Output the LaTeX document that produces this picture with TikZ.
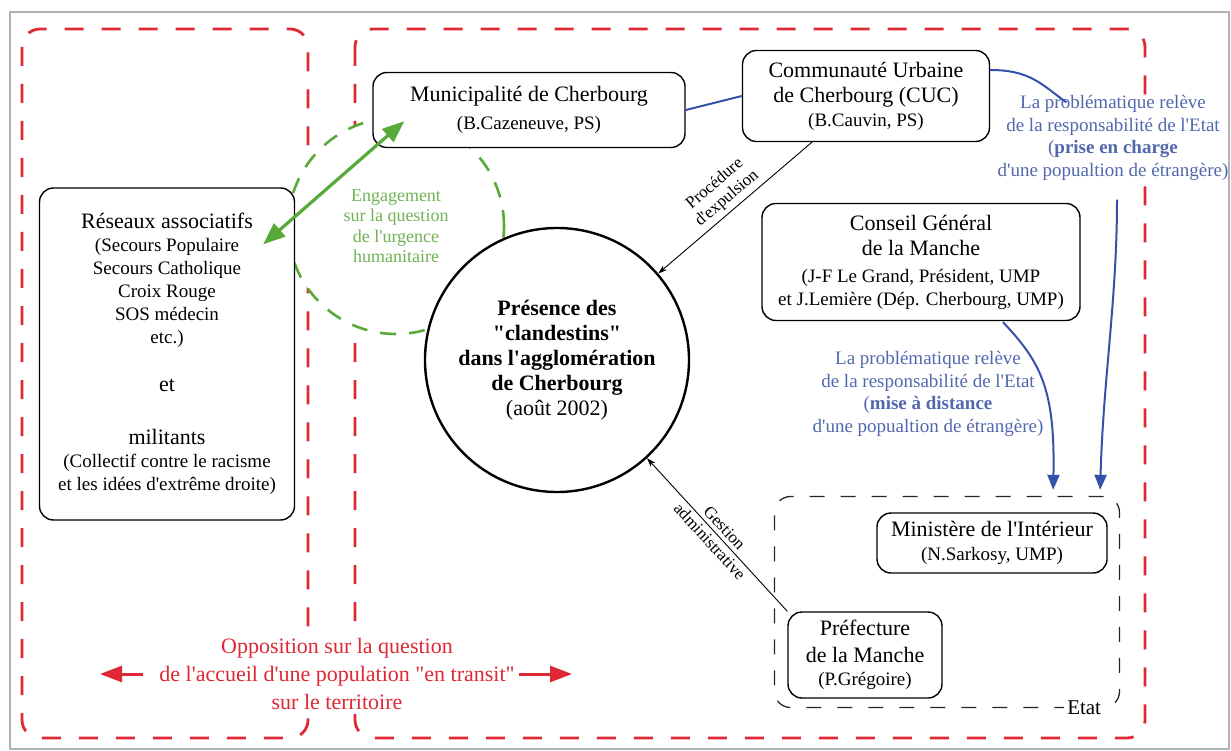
\documentclass[tikz,border=0pt]{standalone}
\usepackage{fontspec}
\setmainfont{Liberation Serif}[Ligatures=TeXOff]
\usetikzlibrary{arrows.meta,calc}

\definecolor{zonered}{RGB}{222,40,52}
\definecolor{engreen}{RGB}{88,170,56}
\definecolor{engtext}{RGB}{112,178,84}
\definecolor{etatblue}{RGB}{52,82,170}
\definecolor{etattext}{RGB}{82,104,172}

\newcommand{\titf}[1]{{\fontsize{22}{23}\selectfont #1}}

\begin{document}
\begin{tikzpicture}[
    x=1pt, y=-1pt, % un point par pixel
    every node/.style={
        font=\fontsize{19}{23}\selectfont,
        align=center,
        inner sep=2pt
    },
    acteur/.style={draw, line width=1.4pt, rounded corners=14pt, fill=white},
    zone/.style={draw=zonered, line width=2.8pt, rounded corners=18pt, dash pattern=on 19pt off 18pt},
    urgence/.style={circle, draw=engreen, line width=2.6pt, dash pattern=on 16pt off 13pt,
        fill=white, text=engtext, font=\fontsize{18}{20.5}\selectfont},
    presence/.style={circle, draw, line width=2.4pt, fill=white, font=\fontsize{22}{25}\selectfont},
    etatzone/.style={draw=black!85, line width=1.3pt, rounded corners=16pt, dash pattern=on 15pt off 16pt},
    fleche/.style={line width=0.9pt, -{Stealth[length=9pt,width=6pt]}},
    bleu/.style={draw=etatblue, line width=2pt},
    bleufleche/.style={bleu, -{Triangle[length=15pt,width=12pt]}},
    vert/.style={draw=engreen, line width=3.2pt, {Triangle[length=22pt,width=17pt]}-{Triangle[length=22pt,width=17pt]}},
    rouge/.style={draw=zonered, line width=3pt, -{Triangle[length=22pt,width=16pt]}},
    legende/.style={text=etattext, font=\fontsize{19}{22.5}\selectfont}
]
  \useasboundingbox (0,0) rectangle (1231,751);

  % les deux camps
  \draw[zone] (22,29) rectangle (308,738);
  \draw[zone] (355,29) rectangle (1145,738);

  % engagement humanitaire
  \node[urgence, minimum size=216pt] (urgence) at (396,226)
    {Engagement\\sur la question\\de l'urgence\\humanitaire};

  % acteurs
  \node[acteur, minimum width=255pt, minimum height=332pt] (resx) at (167,354)
    {\titf{Réseaux associatifs}\\(Secours Populaire\\Secours Catholique\\Croix Rouge\\SOS médecin\\etc.)\\[25pt]
     \titf{et}\\[30pt]\titf{militants}\\(Collectif contre le racisme\\et les idées d'extrême droite)};
  \node[acteur, minimum width=312pt, minimum height=75pt] (muni) at (529,110)
    {\titf{Municipalité de Cherbourg}\\[5pt](B.Cazeneuve, PS)};
  \node[acteur, minimum width=247pt, minimum height=91pt] (cuc) at (866,96)
    {\titf{Communauté Urbaine}\\[2pt]\titf{de Cherbourg (CUC)}\\[1pt](B.Cauvin, PS)};
  \node[acteur, minimum width=318pt, minimum height=117pt] (conseil) at (921,262)
    {\titf{Conseil Général}\\[2pt]\titf{de la Manche}\\[4pt](J-F Le Grand, Président, UMP\\et J.Lemière (Dép. Cherbourg, UMP)};
  \node[etatzone, minimum width=345pt, minimum height=211pt] (etat) at (947,602) {};
  \node[acteur, minimum width=230pt, minimum height=60pt] (mini) at (992,543)
    {\titf{Ministère de l'Intérieur}\\[1pt](N.Sarkosy, UMP)};
  \node[acteur, minimum width=154pt, minimum height=86pt] (pref) at (865,655)
    {\titf{Préfecture}\\[4pt]\titf{de la Manche}\\(P.Grégoire)};
  \node[fill=white, inner sep=3pt, font=\fontsize{21}{23}\selectfont] (etatlbl)
    at ($(etat.south east)+(-36,0)$) {Etat};

  % situation centrale
  \node[presence, minimum size=264pt] (pres) at (557,360)
    {\textbf{Présence des}\\\textbf{"clandestins"}\\\textbf{dans l'agglomération}\\\textbf{de Cherbourg}\\(août 2002)};

  % textes
  \node[legende, fill=white, inner sep=1pt] (lab1) at (1113,138)
    {La problématique relève\\de la responsabilité de l'Etat\\(\textbf{prise en charge}\\d'une popualtion de étrangère)};
  \node[legende] (lab2) at (928,394)
    {La problématique relève\\de la responsabilité de l'Etat\\(\textbf{mise à distance}\\d'une popualtion de étrangère)};
  \node[text=zonered, fill=white, inner sep=4pt, font=\fontsize{22}{28}\selectfont] (opp) at (337,674)
    {Opposition sur la question\\de l'accueil d'une population "en transit"\\sur le territoire};
  \coordinate (oppL) at (100,674);
  \coordinate (oppR) at (572,674);

  % liens
  \draw[vert] ($(resx.north east)+(-32,57)$) -- ($(muni.south west)+(32,-27)$);
  \draw[bleu] (muni.east) -- (cuc.west);
  \draw[bleu] ($(cuc.east)+(0,-26)$) .. controls +(40,0) and +(-25,-18) .. ($(lab1.north west)+(70,8)$);
  \draw[bleufleche] ($(lab1.south)+(4,18)$) .. controls +(0,100) and +(3,-110) .. ($(etat.north east)+(-20,-6)$);
  \draw[bleufleche] ($(conseil.south)+(82,1)$) .. controls +(38,40) and +(2,-100) .. ($(etat.north east)+(-67,-6)$);
  \draw[fleche] (cuc) -- node[sloped, above, inner sep=4pt, font=\fontsize{17}{19}\selectfont] (proc)
    {Procédure\\d'expulsion} (pres);
  \draw[fleche] (pref.north west) -- node[sloped, inner sep=1pt, font=\fontsize{17}{20}\selectfont] (gest)
    {Gestion\\administrative} (pres);
  \draw[rouge, shorten <=12pt] (opp.west) -- (oppL);
  \draw[rouge] (opp.east) -- (oppR);

  % cadre
  \draw[black!30, line width=1.2pt] (10,12) rectangle (1229,749);
\end{tikzpicture}
\end{document}
